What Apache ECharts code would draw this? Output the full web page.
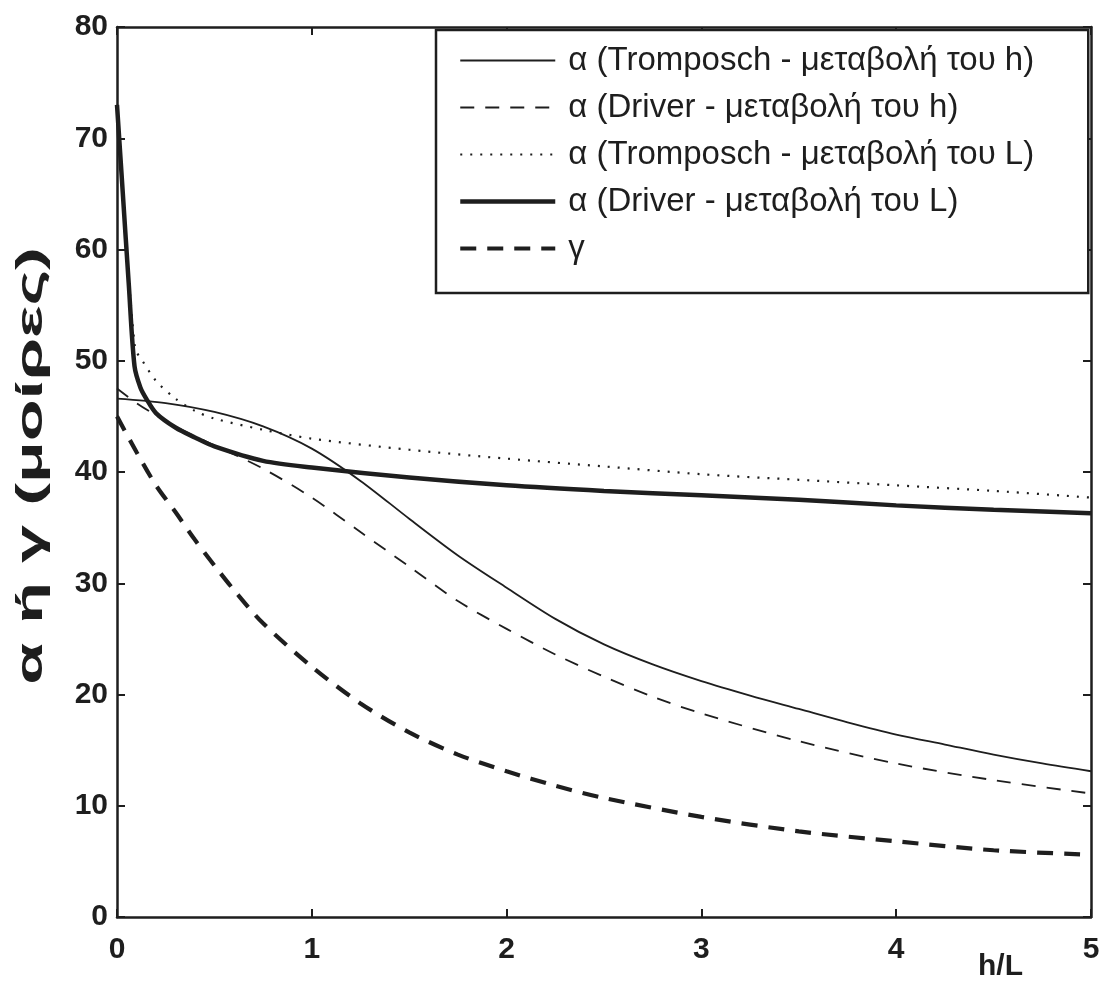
<!DOCTYPE html>
<html>
<head>
<meta charset="utf-8">
<script src="https://cdn.jsdelivr.net/npm/echarts@6/dist/echarts.min.js"></script>
<style>
  html, body { margin: 0; padding: 0; background: #fff; }
  #main { width: 1104px; height: 984px; }
</style>
</head>
<body>
<div id="main"></div>
<script>
// α (Tromposch - μεταβολή του h), thin solid
const xTrompH = [0, 0.25, 0.5, 0.75, 1, 1.25, 1.5, 1.75, 2, 2.25, 2.5, 2.75, 3, 3.25, 3.5, 3.75, 4, 4.25, 4.5, 4.75, 5];
const yTrompH = [46.6, 46.2, 45.4, 44.1, 42.1, 39.2, 35.8, 32.5, 29.6, 26.8, 24.5, 22.7, 21.2, 19.9, 18.7, 17.5, 16.4, 15.5, 14.6, 13.8, 13.1];

// α (Driver - μεταβολή του h), thin dashed
const xDrivH = [0, 0.1, 0.2, 0.3, 0.4, 0.5, 0.75, 1, 1.25, 1.5, 1.75, 2, 2.25, 2.5, 2.75, 3, 3.5, 4, 4.5, 5];
const yDrivH = [47.5, 46.2, 45.1, 44.1, 43.2, 42.4, 40.3, 37.7, 34.6, 31.5, 28.4, 25.9, 23.6, 21.6, 19.8, 18.3, 15.8, 13.8, 12.3, 11.1];

// α (Tromposch - μεταβολή του L), dotted
const xTrompL = [0, 0.03, 0.06, 0.09, 0.1, 0.13, 0.2, 0.3, 0.4, 0.5, 0.75, 1, 1.5, 2, 2.5, 3, 3.5, 4, 4.5, 5];
const yTrompL = [73, 65, 57.5, 51.5, 50.8, 50.0, 48.2, 46.6, 45.5, 44.8, 43.8, 43.0, 42.0, 41.2, 40.5, 39.8, 39.3, 38.8, 38.3, 37.7];

// α (Driver - μεταβολή του L), thick solid
const xDrivL = [0, 0.03, 0.06, 0.09, 0.12, 0.15, 0.2, 0.3, 0.4, 0.5, 0.75, 1, 1.5, 2, 2.5, 3, 3.5, 4, 4.5, 5];
const yDrivL = [73, 65, 57, 49.5, 47.6, 46.6, 45.3, 44.0, 43.1, 42.3, 41.0, 40.4, 39.5, 38.8, 38.3, 37.9, 37.5, 37.0, 36.6, 36.3];

// γ, thick dashed
const xGamma = [0, 0.1, 0.2, 0.3, 0.4, 0.5, 0.6, 0.75, 1, 1.25, 1.5, 1.75, 2, 2.25, 2.5, 3, 3.5, 4, 4.5, 5];
const yGamma = [45.0, 41.8, 38.8, 36.4, 33.9, 31.6, 29.4, 26.4, 22.5, 19.2, 16.6, 14.6, 13.1, 11.8, 10.7, 9.0, 7.7, 6.8, 6.0, 5.6];

const seriesNames = [
    'α (Tromposch - μεταβολή του h)',
    'α (Driver - μεταβολή του h)',
    'α (Tromposch - μεταβολή του L)',
    'α (Driver - μεταβολή του L)',
    'γ'
];

const ink = '#1e1e1e';
const font = '"Liberation Sans", Arial, sans-serif';

function pairs(xs, ys) {
    return xs.map((x, i) => [x, ys[i]]);
}

const styles = [
    { width: 1.8, type: 'solid' },
    { width: 1.8, type: [14, 11] },
    { width: 2.2, type: [2, 8] },
    { width: 4.5, type: 'solid' },
    { width: 4.2, type: [16, 11] }
];
const dataSets = [
    pairs(xTrompH, yTrompH),
    pairs(xDrivH, yDrivH),
    pairs(xTrompL, yTrompL),
    pairs(xDrivL, yDrivL),
    pairs(xGamma, yGamma)
];

let myChart = echarts.init(document.getElementById('main'));

const tickStyle = { show: true, inside: true, length: 8, lineStyle: { color: ink, width: 2 } };
const axisLine = { show: true, onZero: false, lineStyle: { color: ink, width: 2.5 } };

const option = {
    backgroundColor: '#fff',
    animation: false,
    grid: { left: 117, right: 13, top: 27, bottom: 67 },
    legend: {
        orient: 'vertical',
        left: 436,
        top: 30,
        padding: [14, 10, 28, 22],
        itemGap: 14,
        itemWidth: 95,
        itemHeight: 14,
        backgroundColor: '#fff',
        borderColor: ink,
        borderWidth: 2.5,
        selectedMode: false,
        itemStyle: { color: 'rgba(0,0,0,0)', opacity: 0, borderWidth: 0 },
        textStyle: {
            fontFamily: font,
            fontSize: 33,
            color: ink,
            lineHeight: 33,
            padding: [0, 0, 0, 8],
            width: 510,
            overflow: 'none'
        },
        data: seriesNames.map((n, i) => ({
            name: n,
            lineStyle: { width: styles[i].width, type: styles[i].type, color: ink, opacity: 1 }
        }))
    },
    xAxis: [
        {
            type: 'value', min: 0, max: 5, interval: 1,
            axisLine: axisLine, axisTick: tickStyle, splitLine: { show: false },
            axisLabel: { margin: 18, color: ink, fontFamily: font, fontWeight: 'bold', fontSize: 30 }
        },
        {
            type: 'value', position: 'top', min: 0, max: 5, interval: 1,
            axisLine: axisLine, axisTick: tickStyle, splitLine: { show: false },
            axisLabel: { show: false }
        }
    ],
    yAxis: [
        {
            type: 'value', min: 0, max: 80, interval: 10,
            axisLine: axisLine, axisTick: tickStyle, splitLine: { show: false },
            axisLabel: { margin: 9, color: ink, fontFamily: font, fontWeight: 'bold', fontSize: 30 }
        },
        {
            type: 'value', position: 'right', min: 0, max: 80, interval: 10,
            axisLine: axisLine, axisTick: tickStyle, splitLine: { show: false },
            axisLabel: { show: false }
        }
    ],
    graphic: [
        {
            type: 'text',
            left: 978,
            top: 952,
            style: { text: 'h/L', fill: ink, font: 'bold 30px "Liberation Sans", Arial, sans-serif' }
        },
        {
            // y axis title, stretched along its length like the scanned original
            type: 'text',
            x: 32,
            y: 466,
            rotation: Math.PI / 2,
            scaleX: 1.85,
            style: {
                text: 'α ή γ (μοίρες)',
                fill: ink,
                font: 'bold 37px "Liberation Sans", Arial, sans-serif',
                align: 'center',
                verticalAlign: 'middle'
            }
        }
    ],
    series: dataSets.map((d, i) => ({
        name: seriesNames[i],
        type: 'line',
        data: d,
        showSymbol: false,
        symbol: 'none',
        smooth: 0.3,
        itemStyle: { color: ink, opacity: 0 },
        lineStyle: { color: ink, width: styles[i].width, type: styles[i].type },
        emphasis: { disabled: true }
    }))
};
myChart.setOption(option);
</script>
</body>
</html>
